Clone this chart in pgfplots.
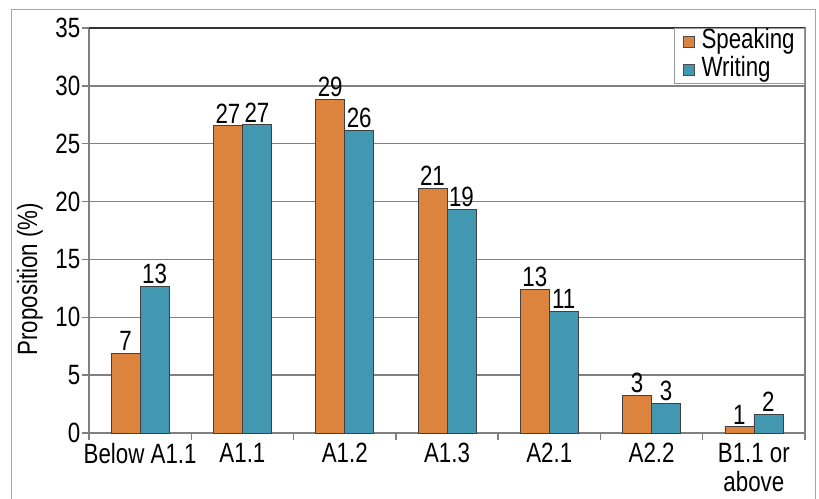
\documentclass[border=0pt]{standalone}
\usepackage{pgfplots}
\pgfplotsset{compat=1.18}
\usepackage{fontspec}
\setmainfont{Liberation Sans}[FakeStretch=0.8]
\definecolor{spk}{RGB}{220,131,62}
\definecolor{wrt}{RGB}{66,152,176}
\definecolor{gridc}{RGB}{128,128,128}
\newcommand{\lf}{\fontsize{28}{29}\selectfont}
\begin{document}
\begin{tikzpicture}
\path[use as bounding box] (-89bp,-66bp) rectangle (730bp,433bp);
\draw[gray!70, line width=1pt] (-78bp,-90bp) -- (-78bp,423bp) -- (726bp,423bp) -- (726bp,-90bp);
\begin{axis}[
  at={(0,0)}, anchor=south west,
  scale only axis, width=716bp, height=405bp,
  ybar=0pt, bar width=0.2835,
  xmin=-0.5, xmax=6.5, ymin=0, ymax=35,
  ytick={0,5,...,35},
  xtick={0,...,6},
  xticklabels={Below A1.1,A1.1,A1.2,A1.3,A2.1,A2.2,{B1.1 or\\above}},
  xticklabel style={align=center, font=\lf, inner sep=1bp, yshift=-2bp},
  yticklabel style={font=\lf, inner sep=1.5bp},
  /pgf/number format/assume math mode=true,
  major x tick style={draw=none},
  minor xtick={-0.5,0.5,...,6.5},
  minor tick length=7bp, major tick length=7bp,
  minor x tick style={gridc, line width=1.3pt},
  tick align=outside,
  tick pos=left,
  ymajorgrids, grid style={gridc, line width=1.3pt},
  y tick style={gridc, line width=1.3pt},
  axis line style={gridc, line width=1.5pt},
  ylabel={Proposition (\%)},
  ylabel style={font=\lf, at={(axis description cs:-0.0824,0.38)}, anchor=center},
  legend style={at={(1,1)}, anchor=north east, draw=gray!80, line width=0.8pt, font=\lf,
    inner xsep=9bp, inner ysep=0bp, row sep=1bp, fill=white,
    nodes={inner xsep=1bp, inner ysep=0bp, text height=20bp, text depth=7bp},
    /tikz/every odd column/.append style={column sep=6bp}},
  legend cell align=left,
  legend image code/.code={\draw[#1, draw=black!70, line width=0.6pt] (0bp,-5.5bp) rectangle (11bp,5.5bp);},
  nodes near coords, point meta=explicit symbolic,
  every node near coord/.append style={font=\lf, inner sep=2bp},
  clip=false,
]
\addplot[fill=spk, draw=black!75, line width=0.6pt] coordinates {
  (0,6.9) [7] (1,26.56) [27] (2,28.84) [29] (3,21.17) [21] (4,12.44) [13] (5,3.26) [3] (6,0.55) [1]
};
\addplot[fill=wrt, draw=black!75, line width=0.6pt] coordinates {
  (0,12.7) [13] (1,26.64) [27] (2,26.16) [26] (3,19.33) [19] (4,10.54) [11] (5,2.56) [3] (6,1.64) [2]
};
\legend{Speaking,Writing}
\draw[black!80, line width=1.5pt] (rel axis cs:0,1) -- (rel axis cs:1,1);
\end{axis}
\end{tikzpicture}
\end{document}
